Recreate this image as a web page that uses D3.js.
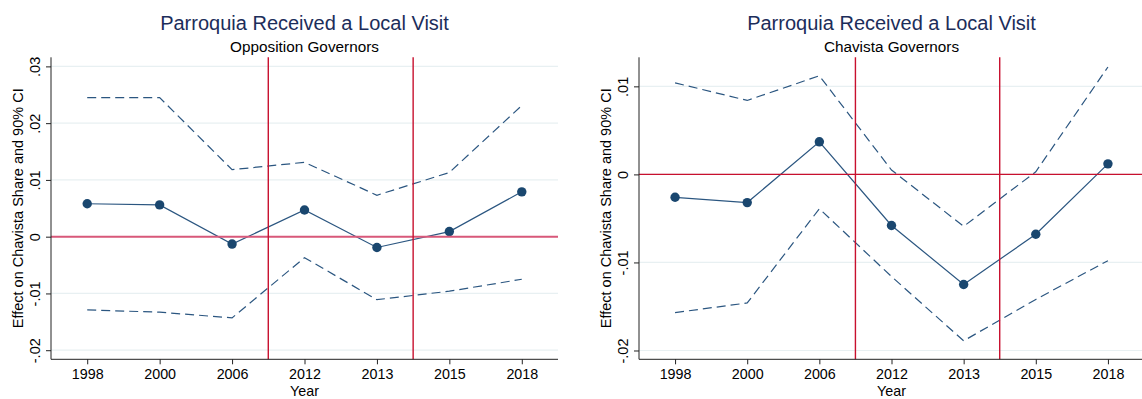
<!DOCTYPE html>
<html><head><meta charset="utf-8">
<script src="https://cdn.jsdelivr.net/npm/d3@7"></script>
<style>
body{margin:0;background:#fff;}
svg{display:block;font-family:"Liberation Sans",Arial,Helvetica,sans-serif;}
</style></head>
<body><svg id="chart" width="1142" height="399"></svg>
<script>
const years = ["1998","2000","2006","2012","2013","2015","2018"];
const breakYears = [["2006","2012"],["2013","2015"]];

const oppTitle = "Parroquia Received a Local Visit";
const oppSubtitle = "Opposition Governors";
const oppEst   = [0.0058, 0.0056, -0.0013, 0.0047, -0.0019, 0.0009, 0.0079];
const oppUpper = [0.0245, 0.0245, 0.0118, 0.0131, 0.0073, 0.0113, 0.0231];
const oppLower = [-0.0129, -0.0133, -0.0143, -0.0037, -0.0111, -0.0096, -0.0075];
const oppTicks = [0.03, 0.02, 0.01, 0, -0.01, -0.02];
const oppTickLabels = [".03", ".02", ".01", "0", "-.01", "-.02"];

const chvTitle = "Parroquia Received a Local Visit";
const chvSubtitle = "Chavista Governors";
const chvEst   = [-0.0026, -0.0032, 0.0037, -0.0058, -0.0125, -0.0068, 0.0012];
const chvUpper = [0.0104, 0.0084, 0.0112, 0.0005, -0.0059, 0.0003, 0.0122];
const chvLower = [-0.0157, -0.0146, -0.0039, -0.0116, -0.0189, -0.0142, -0.0098];
const chvTicks = [0.01, 0, -0.01, -0.02];
const chvTickLabels = [".01", "0", "-.01", "-.02"];

const yTitle = "Effect on Chavista Share and 90% CI";
const xTitle = "Year";

const svg = d3.select("#chart");
const NAVY = "#1a476f";
const RED = "#c8102e";

function panel(opt){
  const g = svg.append("g");
  const x = d3.scalePoint().domain(years).range([opt.x0, opt.x1]).padding(0.5);
  const y = d3.scaleLinear().domain(opt.ydom).range([opt.yb, opt.yt]);
  const cx = (opt.x0 + opt.x1)/2;

  // gridlines
  g.append("g").selectAll("line").data(opt.ticks).join("line")
    .attr("x1", opt.x0).attr("x2", opt.x1)
    .attr("y1", d=>y(d)).attr("y2", d=>y(d))
    .attr("stroke", "#e8f0f2").attr("stroke-width", 1.2);

  const line = d3.line().x((d,i)=>x(years[i])).y(d=>y(d));
  [opt.upper, opt.lower].forEach(arr=>{
    g.append("path").attr("d", line(arr)).attr("fill","none")
      .attr("stroke", "#2b5680").attr("stroke-width", 1.2)
      .attr("stroke-dasharray", "9,5");
  });
  g.append("path").attr("d", line(opt.est)).attr("fill","none")
    .attr("stroke", "#2b5680").attr("stroke-width", 1.2);
  g.append("g").selectAll("circle").data(opt.est).join("circle")
    .attr("cx",(d,i)=>x(years[i])).attr("cy", d=>y(d)).attr("r",4.7)
    .attr("fill", NAVY);

  // reference lines
  g.append("line").attr("x1", opt.x0).attr("x2", opt.x1)
    .attr("y1", y(0)).attr("y2", y(0))
    .attr("stroke", opt.zeroColor).attr("stroke-width", opt.zeroWidth);
  breakYears.forEach(([a,b])=>{
    const xv = (x(a)+x(b))/2;
    g.append("line").attr("x1", xv).attr("x2", xv)
      .attr("y1", opt.yt).attr("y2", opt.yb)
      .attr("stroke", RED).attr("stroke-width", 1.4);
  });

  // axes
  const tickMap = new Map(opt.ticks.map((t,i)=>[t, opt.tickLabels[i]]));
  const ya = g.append("g").attr("transform", `translate(${opt.x0},0)`)
    .call(d3.axisLeft(y).tickValues(opt.ticks).tickSize(5).tickSizeOuter(0)
      .tickFormat(d=>tickMap.get(d)));
  ya.select(".domain").attr("d", `M0,${opt.yt}V${opt.yb}`).attr("stroke","#222");
  ya.selectAll(".tick line").attr("stroke","#222");
  ya.selectAll(".tick text").attr("x",null).attr("dy",null)
    .attr("transform","translate(-11,0) rotate(-90)")
    .attr("text-anchor","middle").attr("font-size",14.5).attr("fill","#000")
    .attr("font-family","Liberation Sans, Arial, sans-serif");

  const xa = g.append("g").attr("transform", `translate(0,${opt.yb})`)
    .call(d3.axisBottom(x).tickSize(5).tickSizeOuter(0));
  xa.select(".domain").attr("d", `M${opt.x0},0H${opt.x1}`).attr("stroke","#222");
  xa.selectAll(".tick line").attr("stroke","#222");
  xa.selectAll(".tick text").attr("y",10).attr("font-size",14.3).attr("fill","#000")
    .attr("font-family","Liberation Sans, Arial, sans-serif");

  // titles
  g.append("text").attr("x", cx).attr("y", 29.5).attr("text-anchor","middle")
    .attr("font-size", 20).attr("fill", "#1c2d5a").text(opt.title);
  g.append("text").attr("x", cx).attr("y", 51.5).attr("text-anchor","middle")
    .attr("font-size", 15.3).attr("fill", "#000").text(opt.subtitle);
  g.append("text").attr("x", cx).attr("y", 396).attr("text-anchor","middle")
    .attr("font-size", 14.3).attr("fill", "#000").text(xTitle);
  g.append("text").attr("transform", `translate(${opt.x0-28},${(opt.yt+opt.yb)/2}) rotate(-90)`)
    .attr("text-anchor","middle").attr("font-size", 14.5).attr("fill","#000").text(yTitle);
}

panel({x0:51, x1:558, yt:57.3, yb:359.3, ydom:[-0.0216, 0.0316],
  est:oppEst, upper:oppUpper, lower:oppLower, ticks:oppTicks, tickLabels:oppTickLabels,
  title:oppTitle, subtitle:oppSubtitle, zeroColor:"#d8587a", zeroWidth:2});
panel({x0:639, x1:1144, yt:57.3, yb:359.3, ydom:[-0.0210, 0.0133],
  est:chvEst, upper:chvUpper, lower:chvLower, ticks:chvTicks, tickLabels:chvTickLabels,
  title:chvTitle, subtitle:chvSubtitle, zeroColor:RED, zeroWidth:1.4});
</script></body></html>
